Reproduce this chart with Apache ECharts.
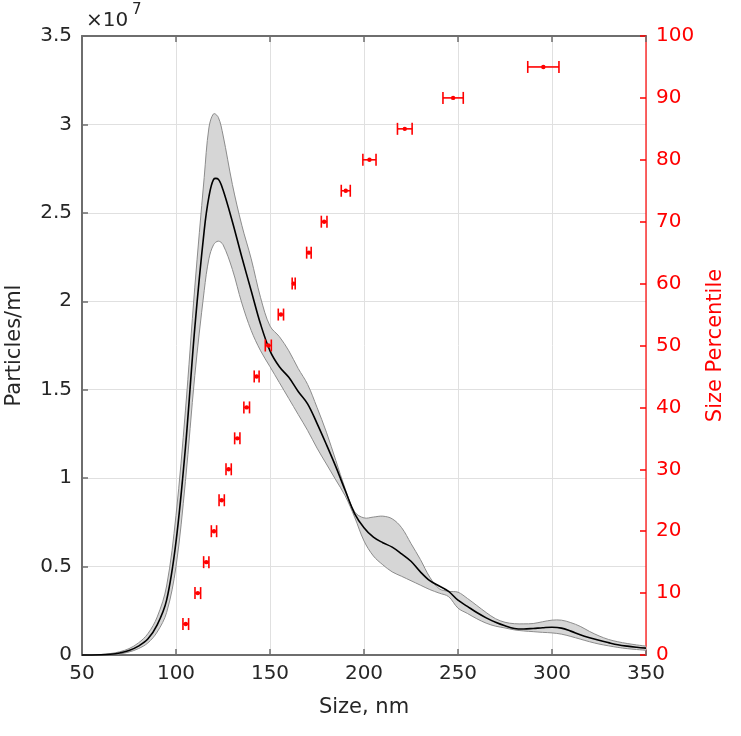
<!DOCTYPE html>
<html><head><meta charset="utf-8">
<script src="https://cdn.jsdelivr.net/npm/echarts@6/dist/echarts.min.js"></script>
<style>html,body{margin:0;padding:0;background:#fff}#c{width:741px;height:736px}</style>
</head><body><div id="c"></div>
<script>
// Size axis (nm)
const sizeNm = [50,55,60,65,70,75,80,85,90,95,100,105,110,115,117.5,120,122.5,125,130,135,140,145,150,155,160,165,170,175,180,185,190,195,200,205,210,215,220,225,230,235,240,245,250,255,260,265,270,275,280,285,290,295,300,305,310,315,320,325,330,335,340,345,350];
// Particles/ml in units of 1e7
const meanConc = [0,0,0.001,0.004,0.011,0.025,0.05,0.09,0.17,0.31,0.64,1.17,1.85,2.40,2.59,2.69,2.69,2.63,2.45,2.25,2.06,1.87,1.72,1.63,1.57,1.49,1.42,1.31,1.19,1.065,0.93,0.80,0.72,0.666,0.635,0.61,0.572,0.53,0.47,0.42,0.39,0.36,0.31,0.275,0.24,0.21,0.185,0.165,0.15,0.147,0.15,0.154,0.157,0.152,0.135,0.115,0.098,0.083,0.07,0.058,0.05,0.044,0.039];
const upperConc = [0,0.001,0.003,0.008,0.018,0.036,0.068,0.12,0.215,0.39,0.79,1.38,2.08,2.70,2.98,3.06,3.04,2.94,2.66,2.43,2.24,2.02,1.86,1.80,1.72,1.62,1.53,1.40,1.26,1.10,0.94,0.81,0.775,0.78,0.785,0.77,0.72,0.63,0.54,0.44,0.375,0.36,0.355,0.32,0.28,0.24,0.205,0.185,0.177,0.176,0.178,0.188,0.197,0.197,0.183,0.162,0.133,0.108,0.088,0.075,0.065,0.057,0.05];
const lowerConc = [0,0,0,0.002,0.006,0.017,0.036,0.068,0.13,0.24,0.50,0.98,1.58,2.06,2.24,2.32,2.34,2.32,2.18,1.99,1.835,1.72,1.63,1.54,1.45,1.36,1.27,1.17,1.08,0.99,0.90,0.78,0.645,0.56,0.51,0.47,0.445,0.42,0.395,0.37,0.35,0.33,0.265,0.235,0.205,0.18,0.163,0.153,0.142,0.136,0.132,0.128,0.125,0.118,0.105,0.09,0.075,0.062,0.052,0.043,0.036,0.031,0.027];
// Size percentiles with horizontal error (half width, nm)
const pctLevels = [5,10,15,20,25,30,35,40,45,50,55,60,65,70,75,80,85,90,95];
const pctSize = [105.2,111.6,116.1,120.2,124.3,128.0,132.6,137.6,142.9,149.1,155.8,162.6,170.7,178.8,190.3,202.9,221.7,247.4,295.4];
const pctErr = [1.5,1.5,1.4,1.4,1.4,1.4,1.4,1.5,1.3,1.6,1.4,0.8,1.2,1.5,2.4,3.5,3.9,5.4,8.3];

const FONT = 'DejaVu Sans';
const AX = '#6e6e6e';
const RED = '#ff0000';
const SM = 0.35;

const pctData = pctLevels.map((p, i) => [pctSize[i], pctErr[i], p]);

const chart = echarts.init(document.getElementById('c'), null, {renderer: 'canvas'});
chart.setOption({
  animation: false,
  backgroundColor: '#fff',
  grid: {left: 82, top: 36, width: 564, height: 619, containLabel: false, outerBoundsMode: 'none'},
  xAxis: [{
    type: 'value', min: 50, max: 350, interval: 50, position: 'bottom',
    axisLine: {show: true, onZero: false, lineStyle: {color: AX, width: 2}},
    axisTick: {show: true, inside: true, length: 6, lineStyle: {color: AX, width: 1.5}},
    axisLabel: {color: '#262626', fontSize: 20, fontFamily: FONT, margin: 9, showMinLabel: true, showMaxLabel: true},
    splitLine: {show: true, lineStyle: {color: '#e0e0e0', width: 1}},
    name: 'Size, nm', nameLocation: 'middle', nameGap: 42,
    nameTextStyle: {color: '#262626', fontSize: 21, fontFamily: FONT}
  }, {
    type: 'value', min: 50, max: 350, interval: 50, position: 'top',
    axisLine: {show: true, onZero: false, lineStyle: {color: AX, width: 2}},
    axisTick: {show: true, inside: true, length: 6, lineStyle: {color: AX, width: 1.5}},
    axisLabel: {show: false}, splitLine: {show: false}
  }],
  yAxis: [{
    type: 'value', min: 0, max: 3.5, interval: 0.5, position: 'left',
    axisLine: {show: true, onZero: false, lineStyle: {color: AX, width: 2}},
    axisTick: {show: true, inside: true, length: 6, lineStyle: {color: AX, width: 1.5}},
    axisLabel: {color: '#262626', fontSize: 20, fontFamily: FONT, margin: 10, showMinLabel: true, showMaxLabel: true},
    splitLine: {show: true, lineStyle: {color: '#e0e0e0', width: 1}},
    name: 'Particles/ml', nameLocation: 'middle', nameGap: 57, nameRotate: 90,
    nameTextStyle: {color: '#262626', fontSize: 21, fontFamily: FONT}
  }, {
    type: 'value', min: 0, max: 100, interval: 10, position: 'right',
    axisLine: {show: true, onZero: false, lineStyle: {color: 'rgba(255,0,0,0.6)', width: 2}},
    axisTick: {show: true, inside: true, length: 6, lineStyle: {color: RED, width: 1.5}},
    axisLabel: {color: RED, fontSize: 20, fontFamily: FONT, margin: 10, showMinLabel: true, showMaxLabel: true},
    splitLine: {show: false},
    name: 'Size Percentile', nameLocation: 'middle', nameGap: 58, nameRotate: 90,
    nameTextStyle: {color: RED, fontSize: 21, fontFamily: FONT}
  }],
  graphic: [
    {type: 'text', left: 86, top: 11, style: {text: '\u00d710', font: '20px "DejaVu Sans"', fill: '#262626'}},
    {type: 'text', left: 132, top: 3, style: {text: '7', font: '15px "DejaVu Sans"', fill: '#262626'}}
  ],
  series: [
    {type: 'custom', name: 'concentration', xAxisIndex: 0, yAxisIndex: 0,
      data: [[sizeNm[0], meanConc[0]]], encode: {x: 0, y: 1}, z: 2,
      renderItem: function (params, api) {
        const up = sizeNm.map((x, i) => api.coord([x, upperConc[i]]));
        const lo = sizeNm.map((x, i) => api.coord([x, lowerConc[i]]));
        const mn = sizeNm.map((x, i) => api.coord([x, meanConc[i]]));
        return {type: 'group', children: [
          {type: 'polygon', shape: {points: up.concat(lo.slice().reverse()), smooth: SM},
            style: {fill: '#d6d6d6', stroke: null}},
          {type: 'polyline', shape: {points: up, smooth: SM}, style: {stroke: '#8c8c8c', lineWidth: 1, fill: null}},
          {type: 'polyline', shape: {points: lo, smooth: SM}, style: {stroke: '#8c8c8c', lineWidth: 1, fill: null}},
          {type: 'polyline', shape: {points: mn, smooth: SM}, style: {stroke: '#000', lineWidth: 1.6, fill: null}}
        ]};
      }
    },
    {type: 'custom', name: 'percentile', yAxisIndex: 1, xAxisIndex: 0, data: pctData,
      encode: {x: 0, y: 2}, z: 4,
      renderItem: function (params, api) {
        const c = api.value(0), h = api.value(1), p = api.value(2);
        const a = api.coord([c - h, p]), b = api.coord([c + h, p]), m = api.coord([c, p]);
        const cap = 6;
        const st = {stroke: RED, lineWidth: 1.6, fill: null};
        return {type: 'group', children: [
          {type: 'line', shape: {x1: a[0], y1: a[1], x2: b[0], y2: b[1]}, style: st},
          {type: 'line', shape: {x1: a[0], y1: a[1] - cap, x2: a[0], y2: a[1] + cap}, style: st},
          {type: 'line', shape: {x1: b[0], y1: b[1] - cap, x2: b[0], y2: b[1] + cap}, style: st},
          {type: 'circle', shape: {cx: m[0], cy: m[1], r: 2.2}, style: {fill: RED}}
        ]};
      }
    }
  ]
});
</script>
</body></html>
